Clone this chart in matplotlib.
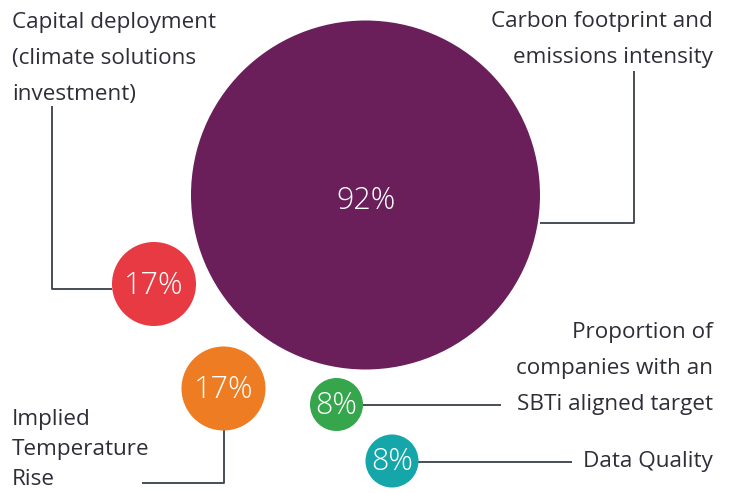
import matplotlib.pyplot as plt
from matplotlib.patches import Circle

# dados do gráfico
rotulos = ["Carbon footprint and\nemissions intensity",
           "Capital deployment\n(climate solutions\ninvestment)",
           "Implied\nTemperature\nRise",
           "Proportion of\ncompanies with an\nSBTi aligned target",
           "Data Quality"]
valores = [92, 17, 17, 8, 8]
cores = ["#6a1f5b", "#e73a43", "#ee7c23", "#36a64d", "#14a6a9"]

# layout em pixels (x, y, raio, deslocamento do número)
bolhas = [(365.5, 195, 174.5, 6), (154, 284, 42, 2), (223.5, 388.5, 42, 1),
          (336.5, 404.5, 26.5, 1), (392, 461, 26.5, 1)]

# conectores: listas de pontos
conectores = [
    [(540, 223), (634, 223), (634, 71)],
    [(112, 289), (52, 289), (52, 106)],
    [(223.5, 430), (223.5, 483), (142, 483)],
    [(363, 404.5), (501, 404.5)],
    [(418, 461.5), (572, 461.5)],
]

# posição dos textos (x, linha de base da 1a linha, alinhamento, espaçamento px)
textos = [(713, 27, "right", 36), (12, 28, "left", 36), (12, 425, "left", 30),
          (713, 338, "right", 36), (713, 467, "right", 36)]

cor_texto = "#2e2e38"
cor_linha = "#3a3f4a"

fig = plt.figure(figsize=(7.3, 4.93), dpi=100)
ax = fig.add_axes([0, 0, 1, 1])
ax.set_xlim(0, 730)
ax.set_ylim(493, 0)
ax.set_aspect("equal")
ax.axis("off")

for pts in conectores:
    xs = [p[0] for p in pts]
    ys = [p[1] for p in pts]
    ax.plot(xs, ys, color=cor_linha, lw=1.3, solid_capstyle="butt", zorder=1)

for (x, y, r, dy), v, c in zip(bolhas, valores, cores):
    ax.add_patch(Circle((x, y), r, color=c, lw=0, zorder=2))
    ax.text(x, y + dy, f"{v}%", color="white", fontsize=22, family="Open Sans",
            fontweight="light", ha="center", va="center", zorder=3)

for rot, (x, y, ha, esp) in zip(rotulos, textos):
    for i, linha in enumerate(rot.split("\n")):
        ax.text(x, y + i * esp, linha, color=cor_texto, fontsize=16.2,
                family="Open Sans", ha=ha, va="baseline")

fig.savefig("out.png", dpi=100)
